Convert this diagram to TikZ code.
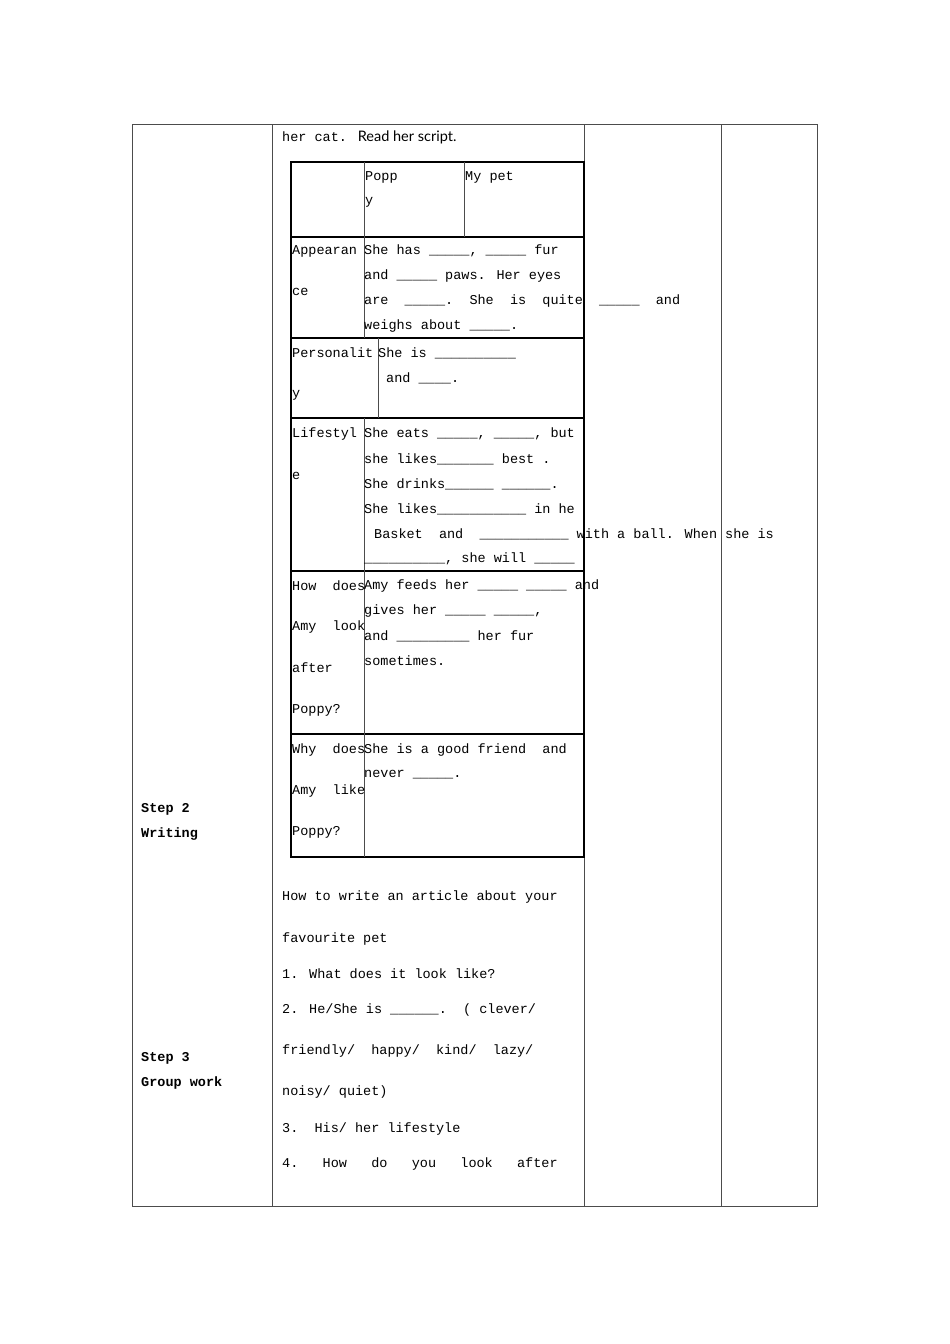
\documentclass[tikz,border=0pt]{standalone}
\usepackage{fontspec}
\setmainfont{Liberation Mono}
\newfontfamily\sansf{Lato}
\tikzset{
  txt/.style={anchor=west, inner sep=0pt, font=\fontsize{13.5}{15}\selectfont},
  thin/.style={draw=black!70, line width=0.6pt},
  heavy/.style={draw=black, line width=1.6pt}
}
\begin{document}
\begin{tikzpicture}[x=1pt,y=-1pt]

	\useasboundingbox[fill=white] (0,0) rectangle (950,1344);

	% outer table
	\draw[thin] (132,124) rectangle (817,1206);
	\foreach \cx in {272,584,721} \draw[thin] (\cx,124) -- (\cx,1206);

	% inner table
	\draw[heavy] (291,162) rectangle (584,857);
	\foreach \ry in {237,338,418,571,734} \draw[heavy] (291,\ry) -- (584,\ry);
	\draw[thin] (364,162) -- (364,338);
	\draw[thin] (464,162) -- (464,237);
	\draw[thin] (378,338) -- (378,418);
	\draw[thin] (364,418) -- (364,857);

	% left column
	\node[txt, font=\fontsize{13.5}{15}\bfseries\selectfont] (s2a) at (141,809) {Step 2};
	\node[txt, font=\fontsize{13.5}{15}\bfseries\selectfont] (s2b) at (141,834) {Writing};
	\node[txt, font=\fontsize{13.5}{15}\bfseries\selectfont] (s3a) at (141,1058) {Step 3};
	\node[txt, font=\fontsize{13.5}{15}\bfseries\selectfont] (s3b) at (141,1083) {Group work};

	% middle column
	\node[txt] (intro) at (282,137) {her cat. {\sansf\fontsize{14.5}{16}\selectfont Read her script.}};

	\node[txt] (h1) at (365,177) {Popp};
	\node[txt] (h2) at (365,202) {y};
	\node[txt] (h3) at (465,177) {My pet};

	\node[txt] (ap1) at (292,251) {Appearan};
	\node[txt] (ap2) at (292,292) {ce};
	\node[txt] (b1) at (364,251) {She has \_\_\_\_\_, \_\_\_\_\_ fur};
	\node[txt] (b2) at (364,276) {and \_\_\_\_\_ paws. Her eyes};
	\node[txt] (b3) at (364,301) {are\ \ \_\_\_\_\_.\ \ She\ \ is\ \ quite\ \ \_\_\_\_\_\ \ and};
	\node[txt] (b4) at (364,326) {weighs about \_\_\_\_\_.};

	\node[txt] (p1) at (292,353) {Personalit};
	\node[txt] (p2) at (292,395) {y};
	\node[txt] (c1) at (378,353) {She is \_\_\_\_\_\_\_\_\_\_};
	\node[txt] (c2) at (386,378) {and \_\_\_\_.};

	\node[txt] (l1) at (292,434) {Lifestyl};
	\node[txt] (l2) at (292,476) {e};
	\node[txt] (d1) at (364,434) {She eats \_\_\_\_\_, \_\_\_\_\_, but};
	\node[txt] (d2) at (364,459) {she likes\_\_\_\_\_\_\_ best .};
	\node[txt] (d3) at (364,484) {She drinks\_\_\_\_\_\_ \_\_\_\_\_\_.};
	\node[txt] (d4) at (364,509) {She likes\_\_\_\_\_\_\_\_\_\_\_ in he};
	\node[txt] (d5) at (374,534) {Basket\ \ and\ \ \_\_\_\_\_\_\_\_\_\_\_ with a ball. When she is};
	\node[txt] (d6) at (364,559) {\_\_\_\_\_\_\_\_\_\_, she will \_\_\_\_\_};

	\node[txt] (q1) at (292,586) {How\ \ does};
	\node[txt] (q2) at (292,627) {Amy\ \ look};
	\node[txt] (q3) at (292,668) {after};
	\node[txt] (q4) at (292,710) {Poppy?};
	\node[txt] (e1) at (364,586) {Amy feeds her \_\_\_\_\_ \_\_\_\_\_ and};
	\node[txt] (e2) at (364,611) {gives her \_\_\_\_\_ \_\_\_\_\_,};
	\node[txt] (e3) at (364,636) {and \_\_\_\_\_\_\_\_\_ her fur};
	\node[txt] (e4) at (364,661) {sometimes.};

	\node[txt] (w1) at (292,750) {Why\ \ does};
	\node[txt] (w2) at (292,791) {Amy\ \ like};
	\node[txt] (w3) at (292,832) {Poppy?};
	\node[txt] (f1) at (364,750) {She is a good friend\ \ and};
	\node[txt] (f2) at (364,775) {never \_\_\_\_\_.};

	\node[txt] (g1) at (282,897) {How to write an article about your};
	\node[txt] (g2) at (282,939) {favourite pet};
	\node[txt] (g3) at (282,974) {1. What does it look like?};
	\node[txt] (g4) at (282,1010) {2. He/She is \_\_\_\_\_\_.\ \ ( clever/};
	\node[txt] (g5) at (282,1051) {friendly/\ \ happy/\ \ kind/\ \ lazy/};
	\node[txt] (g6) at (282,1092) {noisy/ quiet)};
	\node[txt] (g7) at (282,1129) {3.\ \ His/ her lifestyle};
	\node[txt] (g8) at (282,1164) {4.\ \ \ How\ \ \ do\ \ \ you\ \ \ look\ \ \ after};

\end{tikzpicture}
\end{document}
